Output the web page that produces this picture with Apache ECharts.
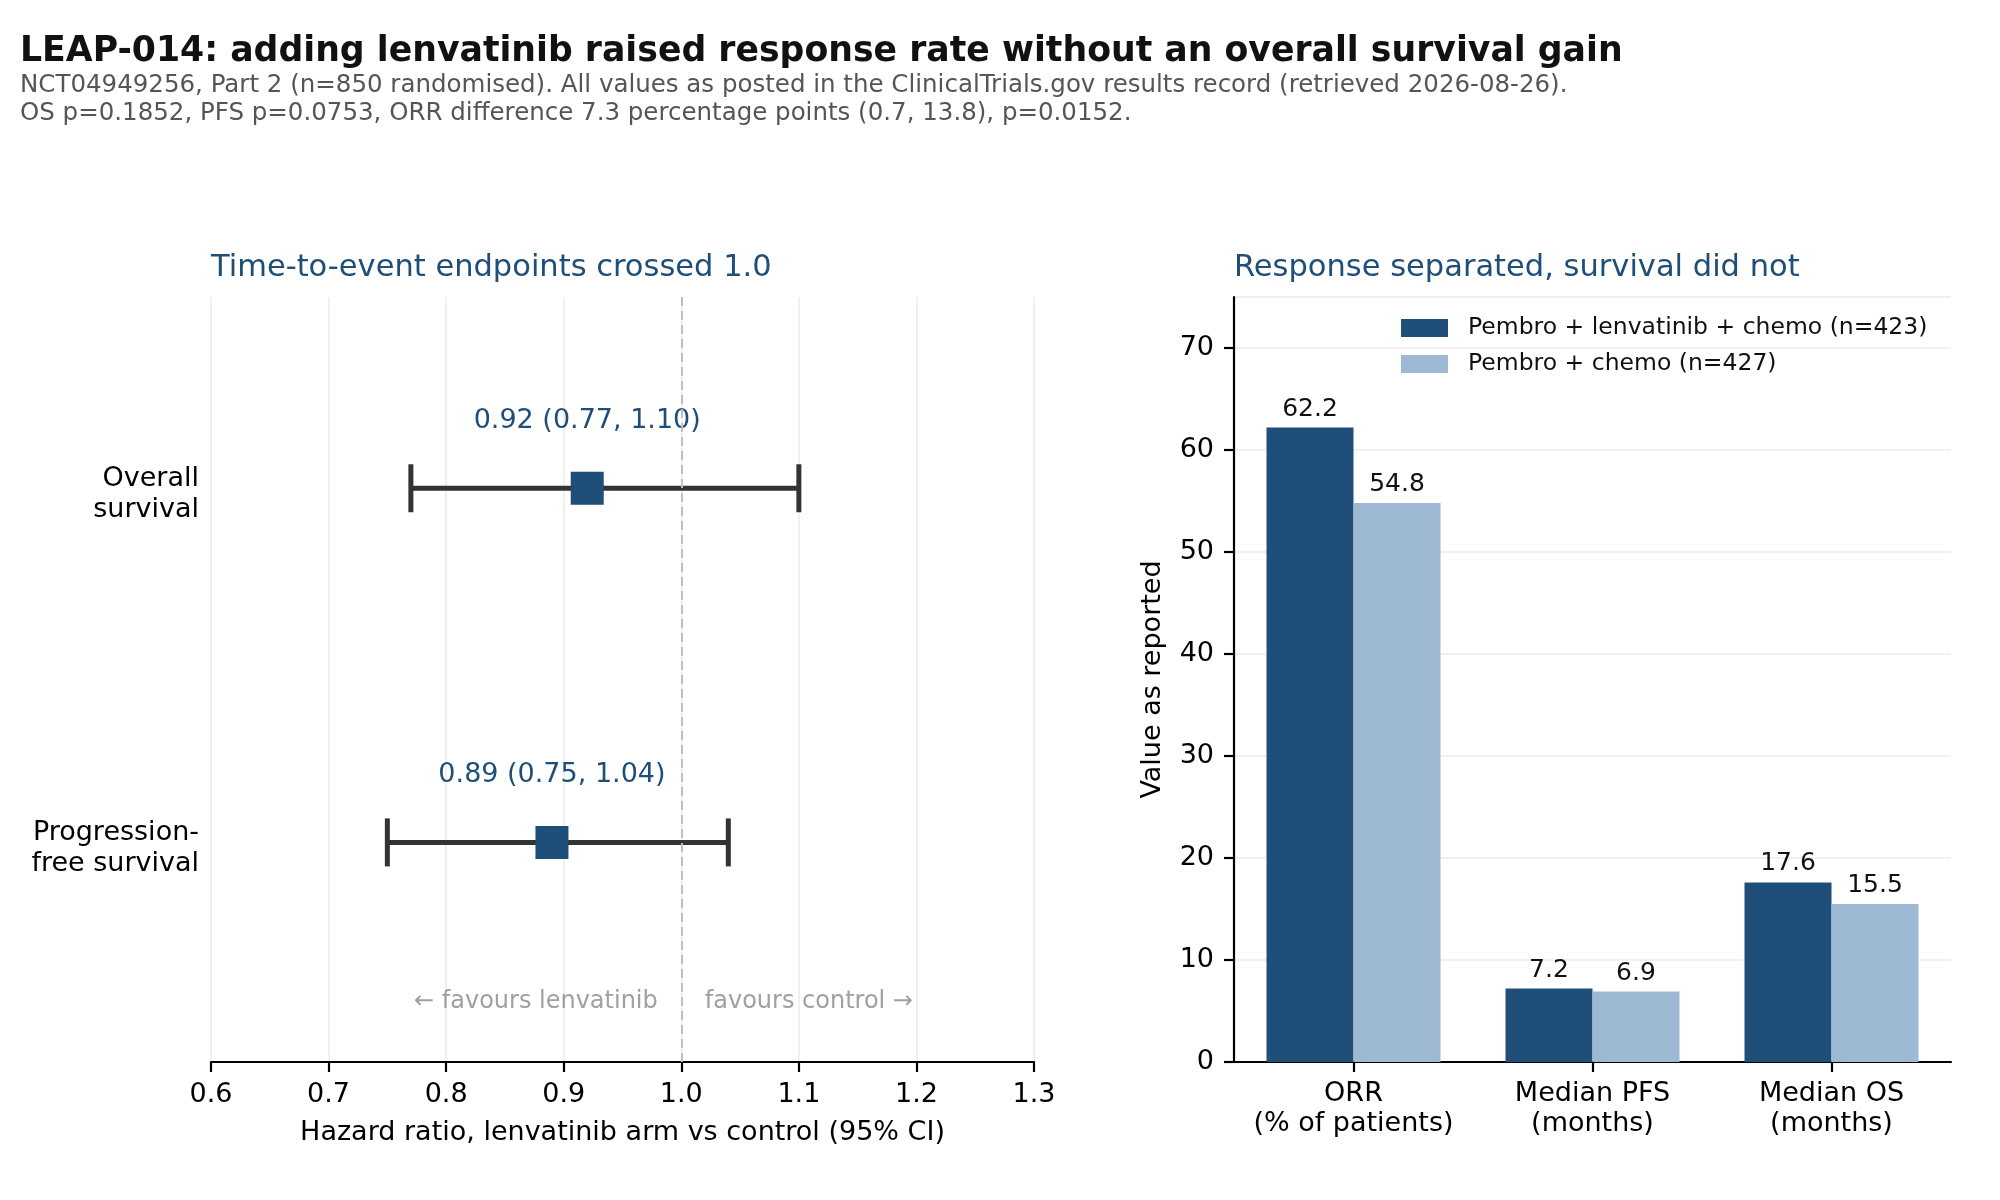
<!DOCTYPE html>
<html>
<head>
<meta charset="utf-8">
<script src="https://cdn.jsdelivr.net/npm/echarts@6/dist/echarts.min.js"></script>
<style>
  html, body { margin: 0; padding: 0; background: #fff; }
  #main { width: 2000px; height: 1200px; }
</style>
</head>
<body>
<div id="main"></div>
<script>
// 左图：风险比 (95% CI)
var endpoints = ['Overall\nsurvival', 'Progression-\nfree survival'];
var rowPos = [1, 0];
var hr = [0.92, 0.89];
var ciLow = [0.77, 0.75];
var ciHigh = [1.10, 1.04];
var favourText = ['← favours lenvatinib', 'favours control →'];
var favourPos = [[0.98, -0.45], [1.02, -0.45]];

// 右图：各组数值
var barCats = ['ORR\n(% of patients)', 'Median PFS\n(months)', 'Median OS\n(months)'];
var armNames = ['Pembro + lenvatinib + chemo (n=423)', 'Pembro + chemo (n=427)'];
var lenvArm = [62.2, 7.2, 17.6];
var ctrlArm = [54.8, 6.9, 15.5];

var titleText = 'LEAP-014: adding lenvatinib raised response rate without an overall survival gain';
var subLines = [
    'NCT04949256, Part 2 (n=850 randomised). All values as posted in the ClinicalTrials.gov results record (retrieved 2026-08-26).',
    'OS p=0.1852, PFS p=0.0753, ORR difference 7.3 percentage points (0.7, 13.8), p=0.0152.'
];

var dark = '#1f4e79';
var light = '#9eb9d4';
var font = 'DejaVu Sans';

var myChart = echarts.init(document.getElementById('main'));

var option = {
    animation: false,
    backgroundColor: '#fff',
    textStyle: { fontFamily: font },
    title: [
        { text: titleText, left: 20, top: 34.5, padding: 0, textStyle: { fontFamily: font, fontSize: 34.7, fontWeight: 'bold', color: '#111', lineHeight: 35 } },
        { text: subLines.join('\n'), left: 20, top: 72, padding: 0, textStyle: { fontFamily: font, fontSize: 24.5, fontWeight: 'normal', color: '#555', lineHeight: 28 } },
        { text: 'Time-to-event endpoints crossed 1.0', left: 211, top: 252, padding: 0, textStyle: { fontFamily: font, fontSize: 30.5, fontWeight: 'normal', color: dark, lineHeight: 32 } },
        { text: 'Response separated, survival did not', left: 1234, top: 252, padding: 0, textStyle: { fontFamily: font, fontSize: 30.5, fontWeight: 'normal', color: dark, lineHeight: 32 } }
    ],
    legend: {
        data: armNames,
        orient: 'vertical',
        left: 1401,
        top: 316,
        padding: 0,
        icon: 'rect',
        itemWidth: 47,
        itemHeight: 18,
        itemGap: 12,
        textStyle: { fontFamily: font, fontSize: 23.5, color: '#111', lineHeight: 24, padding: [0, 0, 0, 15] }
    },
    grid: [
        { left: 211, right: 966, top: 297, bottom: 138 },
        { left: 1234, right: 49, top: 297, bottom: 138 }
    ],
    xAxis: [
        {
            type: 'value', gridIndex: 0, min: 0.6, max: 1.3, interval: 0.1,
            axisLine: { show: true, onZero: false, lineStyle: { color: '#000', width: 2.2 } },
            axisTick: { show: true, length: 10, lineStyle: { color: '#000', width: 2.2 } },
            axisLabel: { fontSize: 27, color: '#000', margin: 19, formatter: function (v) { return v.toFixed(1); } },
            splitLine: { show: true, lineStyle: { color: '#ebebeb', width: 1.5 } },
            name: 'Hazard ratio, lenvatinib arm vs control (95% CI)',
            nameLocation: 'middle', nameGap: 57,
            nameTextStyle: { fontSize: 27, color: '#000' }
        },
        {
            type: 'category', gridIndex: 1, data: barCats,
            axisLine: { show: true, lineStyle: { color: '#000', width: 2.2 } },
            axisTick: { show: true, alignWithLabel: true, length: 10, lineStyle: { color: '#000', width: 2.2 } },
            axisLabel: { interval: 0, fontSize: 27, color: '#000', lineHeight: 30, margin: 17 },
            splitLine: { show: false }
        }
    ],
    yAxis: [
        {
            type: 'value', gridIndex: 0, min: -0.62, max: 1.54,
            axisLine: { show: false }, axisTick: { show: false }, splitLine: { show: false },
            axisLabel: {
                customValues: rowPos,
                fontSize: 27, lineHeight: 31, color: '#000', margin: 12, align: 'right',
                formatter: function (v) {
                    var lines = endpoints[rowPos.indexOf(Math.round(v))].split('\n');
                    return '{sp|}\n' + lines.map(function (s) { return '{t|' + s + '}'; }).join('\n');
                },
                rich: {
                    sp: { height: 12, lineHeight: 12, fontSize: 1 },
                    t: { fontSize: 27, lineHeight: 31, color: '#000', align: 'right' }
                }
            }
        },
        {
            type: 'value', gridIndex: 1, min: 0, max: 75, interval: 10,
            axisLine: { show: true, lineStyle: { color: '#000', width: 2.2 } },
            axisTick: { show: true, length: 10, lineStyle: { color: '#000', width: 2.2 } },
            axisLabel: { fontSize: 27, color: '#000', margin: 20, showMaxLabel: false },
            splitLine: { show: true, lineStyle: { color: '#ebebeb', width: 1.5 } },
            name: 'Value as reported', nameLocation: 'middle', nameGap: 68, nameRotate: 90,
            nameTextStyle: { fontSize: 27, color: '#000' }
        }
    ],
    series: [
        {
            // 参考线与方向注释
            type: 'scatter', xAxisIndex: 0, yAxisIndex: 0, z: 1,
            symbolSize: 0, silent: true,
            data: favourPos.map(function (p, i) {
                return {
                    value: p,
                    label: {
                        show: true, position: 'inside', formatter: favourText[i],
                        align: i === 0 ? 'right' : 'left',
                        fontSize: 24, color: '#888'
                    }
                };
            }),
            markLine: {
                silent: true, symbol: 'none', animation: false,
                label: { show: false },
                lineStyle: { color: '#c0c0c0', width: 2, type: [9, 5] },
                data: [{ xAxis: 1.0 }]
            }
        },
        {
            // 置信区间
            type: 'custom', xAxisIndex: 0, yAxisIndex: 0, z: 3, silent: true,
            data: rowPos.map(function (y, i) { return [ciLow[i], ciHigh[i], y]; }),
            encode: { x: [0, 1], y: 2 },
            renderItem: function (params, api) {
                var y = api.value(2);
                var a = api.coord([api.value(0), y]);
                var b = api.coord([api.value(1), y]);
                var h = 24;
                var style = { stroke: '#333333', lineWidth: 5 };
                return {
                    type: 'group',
                    children: [
                        { type: 'line', shape: { x1: a[0], y1: a[1], x2: b[0], y2: b[1] }, style: style },
                        { type: 'line', shape: { x1: a[0], y1: a[1] - h, x2: a[0], y2: a[1] + h }, style: style },
                        { type: 'line', shape: { x1: b[0], y1: b[1] - h, x2: b[0], y2: b[1] + h }, style: style }
                    ]
                };
            }
        },
        {
            // 点估计
            type: 'scatter', xAxisIndex: 0, yAxisIndex: 0, z: 4,
            symbol: 'rect', symbolSize: 33,
            itemStyle: { color: dark, opacity: 1 },
            data: rowPos.map(function (y, i) { return [hr[i], y]; }),
            label: {
                show: true, position: 'top', distance: 37,
                fontSize: 27, color: dark,
                formatter: function (p) {
                    var i = p.dataIndex;
                    return hr[i].toFixed(2) + ' (' + ciLow[i].toFixed(2) + ', ' + ciHigh[i].toFixed(2) + ')';
                }
            }
        },
        {
            name: armNames[0], type: 'bar', xAxisIndex: 1, yAxisIndex: 1,
            data: lenvArm, barWidth: 87, barGap: '0%',
            itemStyle: { color: dark },
            label: { show: true, position: 'top', distance: 6, fontSize: 25, color: '#111', formatter: function (p) { return p.value.toFixed(1); } }
        },
        {
            name: armNames[1], type: 'bar', xAxisIndex: 1, yAxisIndex: 1,
            data: ctrlArm, barWidth: 87, barGap: '0%',
            itemStyle: { color: light },
            label: { show: true, position: 'top', distance: 6, fontSize: 25, color: '#111', formatter: function (p) { return p.value.toFixed(1); } }
        }
    ]
};

myChart.setOption(option);
</script>
</body>
</html>
